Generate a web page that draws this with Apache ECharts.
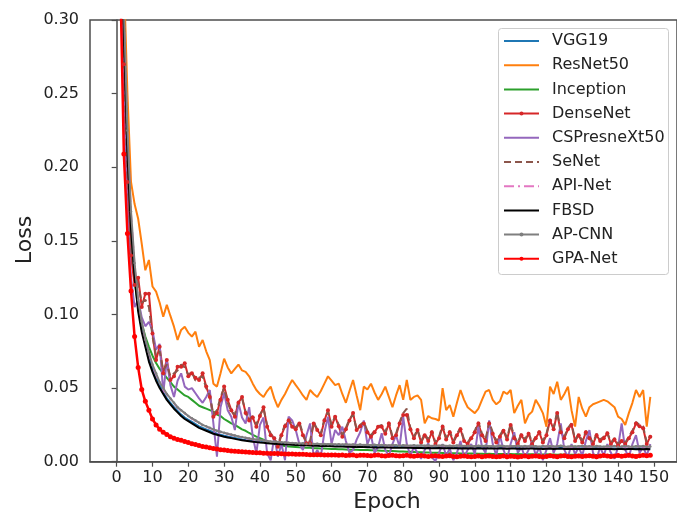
<!DOCTYPE html>
<html>
<head>
<meta charset="utf-8">
<script src="https://cdn.jsdelivr.net/npm/echarts@6/dist/echarts.min.js"></script>
<style>html,body{margin:0;padding:0;background:#fff}#c{width:677px;height:522px}</style>
</head>
<body>
<div id="c"></div>
<script>
const seriesNames = ['VGG19','ResNet50','Inception','DenseNet','CSPresneXt50','SeNet','API-Net','FBSD','AP-CNN','GPA-Net'];
const xTicks = [0,10,20,30,40,50,60,70,80,90,100,110,120,130,140,150];
const yTicks = [0,0.05,0.10,0.15,0.20,0.25,0.30];

const vgg19 = [0.72,0.43,0.30,0.215,0.162,0.128,0.105,0.090,0.080,0.070,
0.063,0.057,0.052,0.047,0.043,0.040,0.037,0.0345,0.032,0.030,
0.0285,0.027,0.0255,0.024,0.023,0.022,0.021,0.020,0.019,0.0183,
0.0177,0.0171,0.0166,0.0161,0.0156,0.0151,0.0147,0.0144,0.0141,0.0138,
0.0135,0.0133,0.0131,0.0129,0.0127,0.0125,0.0123,0.0122,0.012,0.0119,
0.0118,0.0117,0.0116,0.0115,0.0114,0.0113,0.0112,0.0111,0.011,0.011,
0.0109,0.0108,0.0107,0.0107,0.0106,0.0105,0.0104,0.0104,0.0103,0.0103,
0.0102,0.0102,0.0101,0.0101,0.0100,0.0100,0.0100,0.0099,0.0099,0.0099,
0.0099,0.0098,0.0098,0.0097,0.0098,0.0097,0.0096,0.0097,0.0096,0.0096,
0.0097,0.0096,0.0095,0.0096,0.0095,0.0096,0.0094,0.0095,0.0094,0.0095,
0.0094,0.0095,0.0093,0.0094,0.0095,0.0093,0.0094,0.0093,0.0094,0.0092,
0.0093,0.0094,0.0092,0.0093,0.0092,0.0094,0.0093,0.0092,0.0093,0.0091,
0.0092,0.0093,0.0091,0.0092,0.0093,0.0091,0.0092,0.0091,0.0092,0.0090,
0.0091,0.0092,0.0090,0.0091,0.0092,0.0090,0.0091,0.0090,0.0091,0.0089,
0.0090,0.0091,0.0089,0.0090,0.0091,0.0089,0.0090,0.0089,0.0090,0.0089];

const resnet50 = [0.80,0.50,0.33,0.25,0.19,0.175,0.165,0.148,0.130,0.137,
0.119,0.1155,0.108,0.0985,0.1065,0.099,0.0917,0.0827,0.0895,0.0917,
0.0875,0.085,0.0883,0.078,0.0827,0.075,0.069,0.053,0.051,0.060,
0.070,0.064,0.060,0.063,0.066,0.062,0.061,0.058,0.053,0.0487,
0.046,0.044,0.048,0.051,0.043,0.037,0.042,0.046,0.051,0.0555,
0.052,0.0487,0.045,0.042,0.0487,0.046,0.044,0.048,0.053,0.058,
0.055,0.052,0.053,0.046,0.040,0.048,0.0555,0.045,0.035,0.051,
0.049,0.053,0.047,0.042,0.046,0.051,0.044,0.037,0.045,0.052,
0.042,0.0555,0.042,0.044,0.045,0.042,0.026,0.031,0.0295,0.029,
0.028,0.050,0.035,0.0385,0.0306,0.040,0.0487,0.042,0.037,0.035,
0.033,0.036,0.042,0.0476,0.0487,0.042,0.039,0.041,0.0476,0.046,
0.0487,0.033,0.038,0.042,0.026,0.0317,0.034,0.042,0.038,0.033,
0.0238,0.051,0.046,0.0543,0.042,0.046,0.051,0.035,0.0238,0.044,
0.036,0.0306,0.037,0.039,0.040,0.041,0.042,0.041,0.039,0.037,
0.0306,0.029,0.025,0.033,0.040,0.0487,0.044,0.0487,0.0238,0.044];

const inception = [0.75,0.45,0.30,0.20,0.15,0.123,0.105,0.094,0.085,0.078,
0.072,0.067,0.063,0.060,0.057,0.054,0.051,0.049,0.047,0.045,
0.044,0.042,0.040,0.038,0.037,0.036,0.035,0.034,0.032,0.031,
0.029,0.0275,0.026,0.025,0.0235,0.022,0.021,0.0195,0.0182,0.017,
0.016,0.015,0.0138,0.0128,0.012,0.0115,0.011,0.0107,0.0104,0.0102,
0.0100,0.0098,0.0097,0.0095,0.0094,0.0092,0.0091,0.0090,0.0089,0.0088,
0.0087,0.0086,0.0085,0.0084,0.0083,0.0082,0.0082,0.0081,0.0080,0.0080,
0.0079,0.0078,0.0077,0.0076,0.0075,0.0074,0.0073,0.0072,0.0071,0.0070,
0.0069,0.0068,0.0067,0.0066,0.0065,0.0064,0.0063,0.0062,0.0061,0.0060,
0.0060,0.0059,0.0058,0.0058,0.0057,0.0057,0.0056,0.0056,0.0055,0.0055,
0.0055,0.0054,0.0054,0.0053,0.0054,0.0053,0.0053,0.0052,0.0053,0.0052,
0.0052,0.0051,0.0052,0.0051,0.0051,0.0050,0.0051,0.0050,0.0050,0.0049,
0.0050,0.0049,0.0049,0.0048,0.0049,0.0048,0.0048,0.0047,0.0048,0.0047,
0.0047,0.0046,0.0047,0.0046,0.0046,0.0045,0.0046,0.0045,0.0045,0.0044,
0.0045,0.0044,0.0044,0.0043,0.0044,0.0043,0.0043,0.0042,0.0043,0.0042];

const densenet = [0.70,0.40,0.27,0.19,0.14,0.12,0.125,0.105,0.114,0.114,
0.087,0.069,0.078,0.060,0.069,0.0555,0.058,0.0645,0.0645,0.0668,
0.058,0.060,0.057,0.0555,0.060,0.051,0.044,0.0306,0.033,0.042,
0.051,0.042,0.035,0.0306,0.040,0.044,0.033,0.028,0.030,0.0238,
0.031,0.037,0.0238,0.018,0.0159,0.0102,0.018,0.024,0.028,0.0238,
0.022,0.026,0.018,0.0125,0.0125,0.026,0.0215,0.018,0.028,0.035,
0.0238,0.0306,0.024,0.017,0.022,0.028,0.033,0.0215,0.024,0.026,
0.020,0.017,0.020,0.0238,0.0238,0.019,0.026,0.016,0.018,0.026,
0.0317,0.0317,0.022,0.016,0.0215,0.013,0.018,0.014,0.020,0.012,
0.016,0.0238,0.015,0.020,0.013,0.018,0.022,0.014,0.012,0.016,
0.020,0.026,0.018,0.014,0.026,0.019,0.013,0.017,0.021,0.015,
0.025,0.016,0.012,0.018,0.014,0.019,0.012,0.016,0.020,0.013,
0.018,0.028,0.022,0.033,0.020,0.016,0.022,0.025,0.014,0.018,
0.013,0.020,0.016,0.012,0.018,0.014,0.016,0.0193,0.012,0.015,
0.011,0.014,0.012,0.016,0.020,0.026,0.024,0.0227,0.012,0.017];

const cspresnext50 = [0.65,0.37,0.25,0.17,0.125,0.105,0.11,0.098,0.092,0.095,
0.089,0.076,0.080,0.0465,0.069,0.052,0.044,0.055,0.060,0.051,
0.049,0.050,0.0465,0.043,0.040,0.044,0.0487,0.026,0.0034,0.037,
0.0465,0.035,0.0306,0.0215,0.040,0.030,0.026,0.037,0.017,0.0057,
0.025,0.030,0.0057,0.001,0.017,0.0034,0.012,0.001,0.0306,0.028,
0.0215,0.012,0.008,0.018,0.026,0.0034,0.008,0.0034,0.020,0.0306,
0.012,0.0215,0.018,0.0238,0.014,0.006,0.008,0.015,0.020,0.028,
0.012,0.018,0.006,0.010,0.0193,0.008,0.004,0.012,0.018,0.010,
0.0306,0.012,0.004,0.010,0.006,0.002,0.008,0.0125,0.003,0.0005,
0.006,0.012,0.004,0.009,0.001,0.006,0.014,0.003,0.008,0.012,
0.005,0.0238,0.010,0.006,0.028,0.012,0.004,0.018,0.008,0.002,
0.012,0.020,0.006,0.010,0.003,0.008,0.014,0.004,0.010,0.001,
0.008,0.016,0.006,0.012,0.026,0.008,0.003,0.012,0.005,0.010,
0.004,0.014,0.0215,0.006,0.002,0.010,0.004,0.012,0.006,0.002,
0.010,0.026,0.008,0.003,0.012,0.018,0.006,0.010,0.004,0.012];

const senet = [0.72,0.41,0.275,0.195,0.145,0.128,0.12,0.108,0.11,0.105,
0.085,0.072,0.075,0.062,0.066,0.058,0.060,0.062,0.066,0.064,
0.059,0.061,0.055,0.057,0.058,0.050,0.045,0.032,0.035,0.044,
0.050,0.040,0.034,0.032,0.041,0.043,0.034,0.029,0.031,0.025,
0.032,0.036,0.025,0.019,0.016,0.011,0.019,0.025,0.029,0.025,
0.023,0.027,0.019,0.013,0.014,0.027,0.022,0.019,0.029,0.034,
0.025,0.031,0.025,0.018,0.023,0.029,0.032,0.022,0.025,0.027,
0.021,0.018,0.021,0.024,0.025,0.020,0.027,0.017,0.019,0.027,
0.033,0.036,0.023,0.017,0.022,0.014,0.019,0.015,0.021,0.013,
0.017,0.025,0.016,0.021,0.014,0.019,0.023,0.015,0.013,0.017,
0.021,0.027,0.019,0.015,0.027,0.020,0.014,0.018,0.022,0.016,
0.026,0.017,0.013,0.019,0.015,0.020,0.013,0.017,0.021,0.014,
0.019,0.029,0.023,0.034,0.021,0.017,0.023,0.026,0.015,0.019,
0.014,0.021,0.017,0.013,0.019,0.015,0.017,0.020,0.013,0.016,
0.012,0.015,0.013,0.017,0.021,0.027,0.025,0.024,0.013,0.018];

const apiNet = [0.74,0.44,0.305,0.222,0.168,0.133,0.109,0.094,0.082,0.073,
0.065,0.059,0.0535,0.0495,0.0456,0.0427,0.0397,0.0368,0.0348,0.0328,
0.0308,0.0293,0.0278,0.0263,0.0248,0.0238,0.0228,0.0218,0.0208,0.0201,
0.0194,0.0188,0.0182,0.0176,0.017,0.0165,0.016,0.0156,0.0152,0.0148,
0.0145,0.0142,0.0139,0.0136,0.0134,0.0132,0.013,0.0128,0.0126,0.0125,
0.0124,0.0122,0.0123,0.012,0.0121,0.0119,0.012,0.0117,0.0119,0.0116,
0.0118,0.0115,0.0117,0.0114,0.0116,0.0113,0.0115,0.0112,0.0114,0.0111,
0.0113,0.011,0.0113,0.0109,0.0112,0.011,0.0108,0.0111,0.0109,0.0107,
0.011,0.0108,0.0106,0.0109,0.0107,0.011,0.0106,0.0108,0.0105,0.0108,
0.0106,0.0109,0.0105,0.0107,0.0104,0.0108,0.0106,0.0104,0.0107,0.0105,
0.0103,0.0106,0.0104,0.0107,0.0103,0.0105,0.0102,0.0106,0.0104,0.0101,
0.0105,0.0103,0.0106,0.0102,0.0104,0.0101,0.0105,0.0103,0.01,0.0104,
0.0102,0.0105,0.0101,0.0103,0.0106,0.0102,0.01,0.0104,0.0101,0.0103,
0.0105,0.0101,0.0103,0.01,0.0104,0.0102,0.0099,0.0103,0.0101,0.0104,
0.01,0.0102,0.0105,0.0101,0.0099,0.0103,0.0101,0.0104,0.01,0.0102];

const fbsd = [0.70,0.42,0.29,0.21,0.158,0.125,0.102,0.088,0.078,0.068,
0.061,0.055,0.050,0.046,0.042,0.039,0.036,0.0335,0.031,0.029,
0.0275,0.026,0.0245,0.023,0.022,0.021,0.020,0.019,0.0183,0.0176,
0.017,0.0165,0.016,0.0155,0.015,0.0146,0.0142,0.0139,0.0136,0.0133,
0.013,0.0128,0.0126,0.0124,0.0122,0.012,0.0119,0.0118,0.0116,0.0115,
0.0114,0.0113,0.0112,0.0111,0.011,0.0109,0.0108,0.0107,0.0106,0.0106,
0.0105,0.0104,0.0103,0.0103,0.0102,0.0101,0.0100,0.0100,0.0099,0.0099,
0.0098,0.0098,0.0097,0.0097,0.0096,0.0096,0.0096,0.0095,0.0095,0.0095,
0.0095,0.0094,0.0094,0.0093,0.0094,0.0093,0.0092,0.0093,0.0092,0.0092,
0.0093,0.0092,0.0091,0.0092,0.0091,0.0092,0.0090,0.0091,0.0090,0.0091,
0.0090,0.0091,0.0089,0.0090,0.0091,0.0089,0.0090,0.0089,0.0090,0.0088,
0.0089,0.0090,0.0088,0.0089,0.0088,0.0090,0.0089,0.0088,0.0089,0.0087,
0.0088,0.0089,0.0087,0.0088,0.0089,0.0087,0.0088,0.0087,0.0088,0.0086,
0.0087,0.0088,0.0086,0.0087,0.0088,0.0086,0.0087,0.0086,0.0087,0.0085,
0.0086,0.0087,0.0085,0.0086,0.0087,0.0085,0.0086,0.0085,0.0086,0.0085];

const apCnn = [0.75,0.45,0.31,0.225,0.17,0.135,0.11,0.095,0.083,0.074,
0.066,0.060,0.054,0.050,0.046,0.043,0.040,0.037,0.035,0.033,
0.031,0.0295,0.028,0.0265,0.025,0.024,0.023,0.022,0.021,0.0203,
0.0196,0.019,0.0184,0.0178,0.0172,0.0167,0.0162,0.0158,0.0154,0.015,
0.0147,0.0144,0.0141,0.0138,0.0136,0.0134,0.0132,0.013,0.0128,0.0127,
0.0126,0.0124,0.0125,0.0122,0.0123,0.0121,0.0122,0.0119,0.0121,0.0118,
0.0120,0.0117,0.0119,0.0116,0.0118,0.0115,0.0117,0.0114,0.0116,0.0113,
0.0115,0.0112,0.0115,0.0111,0.0114,0.0112,0.0110,0.0113,0.0111,0.0109,
0.0112,0.0110,0.0108,0.0111,0.0109,0.0112,0.0108,0.0110,0.0107,0.0110,
0.0108,0.0111,0.0107,0.0109,0.0106,0.0110,0.0108,0.0106,0.0109,0.0107,
0.0105,0.0108,0.0106,0.0109,0.0105,0.0107,0.0104,0.0108,0.0106,0.0103,
0.0107,0.0105,0.0108,0.0104,0.0106,0.0103,0.0107,0.0105,0.0102,0.0106,
0.0104,0.0107,0.0103,0.0105,0.0108,0.0104,0.0102,0.0106,0.0103,0.0105,
0.0107,0.0103,0.0105,0.0102,0.0106,0.0104,0.0101,0.0105,0.0103,0.0106,
0.0102,0.0104,0.0107,0.0103,0.0101,0.0105,0.0103,0.0106,0.0102,0.0104];

const gpaNet = [0.62,0.33,0.209,0.155,0.116,0.085,0.064,0.049,0.041,0.035,
0.029,0.025,0.022,0.020,0.0185,0.017,0.016,0.015,0.0145,0.0138,
0.013,0.0122,0.0116,0.011,0.0104,0.0099,0.0094,0.009,0.0086,0.0082,
0.0079,0.0076,0.0073,0.0071,0.0069,0.0067,0.0066,0.0064,0.0062,0.0061,
0.006,0.0058,0.0057,0.0056,0.0055,0.0055,0.0054,0.0053,0.0052,0.0052,
0.0051,0.005,0.005,0.0049,0.0048,0.0048,0.0047,0.0047,0.0046,0.0046,
0.0045,0.0046,0.0043,0.0045,0.0042,0.0044,0.0046,0.0041,0.0043,0.0044,
0.0042,0.0040,0.0043,0.0045,0.0041,0.0039,0.0042,0.0044,0.0040,0.0038,
0.0041,0.0043,0.0039,0.0037,0.0040,0.0042,0.0038,0.0036,0.0039,0.0041,
0.0037,0.0035,0.0038,0.0040,0.0036,0.0034,0.0037,0.0039,0.0035,0.0033,
0.0036,0.0038,0.0034,0.0037,0.0039,0.0035,0.0033,0.0036,0.0038,0.0034,
0.0037,0.0035,0.0032,0.0036,0.0038,0.0034,0.0037,0.0039,0.0035,0.0033,
0.0036,0.0040,0.0037,0.0034,0.0038,0.0041,0.0036,0.0033,0.0037,0.0039,
0.0035,0.0038,0.0041,0.0037,0.0034,0.0039,0.0042,0.0038,0.0035,0.0039,
0.0042,0.0037,0.0040,0.0043,0.0039,0.0036,0.0041,0.0044,0.0040,0.0043];

const epochs = vgg19.map((_, i) => i);
const FONT = 'DejaVu Sans';
const AXIS_COLOR = '#4d4d4d';
const withMarker = { 'DenseNet': true, 'AP-CNN': true, 'GPA-Net': true };

function mk(name, values, color, extra) {
  return Object.assign({
    name: name,
    type: 'line',
    data: epochs.map((e, i) => [e, values[i]]),
    symbol: 'none',
    lineStyle: { color: color, width: 2 },
    itemStyle: { color: color },
    emphasis: { disabled: true },
    animation: false,
    clip: true
  }, extra || {});
}

const series = [
  mk(seriesNames[0], vgg19, '#1f77b4'),
  mk(seriesNames[1], resnet50, '#ff7f0e'),
  mk(seriesNames[2], inception, '#2ca02c'),
  mk(seriesNames[3], densenet, '#d62728', { symbol: 'circle', symbolSize: 4 }),
  mk(seriesNames[4], cspresnext50, '#9467bd'),
  mk(seriesNames[5], senet, '#8c564b', { lineStyle: { color: '#8c564b', width: 2, type: [7, 4] } }),
  mk(seriesNames[6], apiNet, '#e377c2', { lineStyle: { color: '#e377c2', width: 2, type: [10, 4, 2, 4] } }),
  mk(seriesNames[7], fbsd, '#000000'),
  mk(seriesNames[8], apCnn, '#7f7f7f', { symbol: 'circle', symbolSize: 2.5 }),
  mk(seriesNames[9], gpaNet, '#ff0000', { symbol: 'circle', symbolSize: 5, lineStyle: { color: '#ff0000', width: 2.5 } })
];

const legendData = seriesNames.map(n => withMarker[n]
  ? { name: n }
  : { name: n, itemStyle: { opacity: 0 } });

const chart = echarts.init(document.getElementById('c'), null, { renderer: 'canvas' });
chart.setOption({
  animation: false,
  backgroundColor: '#ffffff',
  textStyle: { fontFamily: FONT },
  grid: { left: 90, top: 20, width: 590, height: 441.7, show: true, borderColor: AXIS_COLOR, borderWidth: 1.5, backgroundColor: 'transparent' },
  xAxis: {
    type: 'value', min: -7.45, max: 156.45,
    splitLine: { show: false },
    axisLine: { show: true, onZero: false, lineStyle: { color: AXIS_COLOR, width: 1.5 } },
    axisTick: { show: true, length: 5, lineStyle: { color: AXIS_COLOR, width: 1.2 }, customValues: xTicks },
    axisLabel: { customValues: xTicks, fontFamily: FONT, fontSize: 16, color: '#222', margin: 8 }
  },
  yAxis: {
    type: 'value', min: 0, max: 0.30, interval: 0.05,
    splitLine: { show: false },
    axisLine: { show: true, lineStyle: { color: AXIS_COLOR, width: 1.5 } },
    axisTick: { show: true, length: 5, lineStyle: { color: AXIS_COLOR, width: 1.2 } },
    axisLabel: { fontFamily: FONT, fontSize: 16, color: '#222', margin: 11, formatter: v => v.toFixed(2) }
  },
  legend: {
    orient: 'vertical',
    left: 503, top: 33,
    padding: 0,
    itemWidth: 35, itemHeight: 5, itemGap: 8.2,
    data: legendData,
    textStyle: { fontFamily: FONT, fontSize: 16, color: '#222', lineHeight: 16, padding: [0, 0, 0, 8] },
    selectedMode: false
  },
  graphic: [
    { type: 'rect', z: 3, shape: { x: 498.5, y: 28.5, width: 170, height: 246, r: 3 }, style: { fill: '#ffffff', stroke: '#cccccc', lineWidth: 1 } },
    { type: 'text', z: 5, x: 387, y: 502, style: { text: 'Epoch', font: '22px "DejaVu Sans"', fill: '#222', textAlign: 'center', textVerticalAlign: 'middle' } },
    { type: 'text', z: 5, x: 25, y: 240, rotation: Math.PI / 2, style: { text: 'Loss', font: '22px "DejaVu Sans"', fill: '#222', textAlign: 'center', textVerticalAlign: 'middle' } }
  ],
  series: series
});
</script>
</body>
</html>
